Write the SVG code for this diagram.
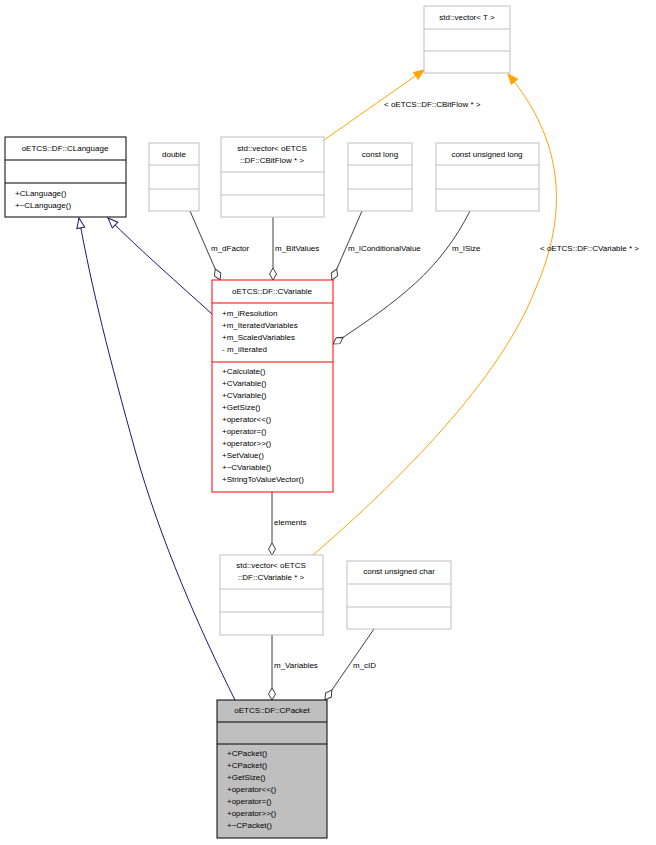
<svg xmlns="http://www.w3.org/2000/svg" width="656" height="845" viewBox="0 0 656 845">
<style>
text{font-family:"Liberation Sans",Arial,sans-serif;font-size:8px;fill:#000}
.c{text-anchor:middle}
.g{fill:#fff;stroke:#bfbfbf;stroke-width:1}
.b{fill:#fff;stroke:#000;stroke-width:1}
.r{fill:#fff;stroke:#ff0000;stroke-width:1}
.p{fill:#bfbfbf;stroke:#000;stroke-width:1}
.e{fill:none;stroke:#404040;stroke-width:1}
.i{fill:none;stroke:#191970;stroke-width:1}
.o{fill:none;stroke:#ffa500;stroke-width:1}
</style>
<defs>
<marker id="dia" markerWidth="14" markerHeight="8" refX="13" refY="4" orient="auto" markerUnits="userSpaceOnUse"><path d="M1,4 L7,0.5 L13,4 L7,7.5 Z" fill="#fff" stroke="#404040"/></marker>
<marker id="tri" markerWidth="12" markerHeight="10" refX="11" refY="5" orient="auto" markerUnits="userSpaceOnUse"><path d="M1,1 L11,5 L1,9 Z" fill="#fff" stroke="#191970"/></marker>
<marker id="oa" markerWidth="12" markerHeight="10" refX="11" refY="5" orient="auto" markerUnits="userSpaceOnUse"><path d="M1,1 L11,5 L1,9 Z" fill="#ffa500" stroke="#ffa500"/></marker>
</defs>
<g id="connectors">
<path class="i" d="M235,700 C200,630 160,540 135,450 C110,360 92,290 79,218" marker-end="url(#tri)"/>
<path class="i" d="M212,314 C180,285 140,250 108,218" marker-end="url(#tri)"/>
<path class="e" d="M190,211 L220,280" marker-end="url(#dia)"/>
<path class="e" d="M273,217 L273,280" marker-end="url(#dia)"/>
<path class="e" d="M362,211 L332,280" marker-end="url(#dia)"/>
<path class="e" d="M470,211 C440,270 400,300 333,344" marker-end="url(#dia)"/>
<path class="o" d="M324,140 L424,70" marker-end="url(#oa)"/>
<path class="o" d="M313,555 C400,480 500,380 535,290 C575,200 555,130 508,74" marker-end="url(#oa)"/>
<path class="e" d="M272,492 L272,555" marker-end="url(#dia)"/>
<path class="e" d="M272,635 L272,700" marker-end="url(#dia)"/>
<path class="e" d="M374,629 L325,700" marker-end="url(#dia)"/>
<text x="384" y="107">&lt; oETCS::DF::CBitFlow * &gt;</text>
<text x="540" y="251">&lt; oETCS::DF::CVariable * &gt;</text>
<text x="211" y="251">m_dFactor</text>
<text x="275" y="251">m_BitValues</text>
<text x="348" y="251">m_lConditionalValue</text>
<text x="452" y="251">m_lSize</text>
<text x="274" y="525">elements</text>
<text x="274" y="668">m_Variables</text>
<text x="353" y="668">m_cID</text>
</g>
<g id="vectorT"><rect class="g" x="424" y="6" width="86" height="67"/><path class="g" d="M424,29H510M424,51H510"/><text class="c" x="467" y="20">std::vector&lt; T &gt;</text></g>
<g id="CLanguage"><rect class="b" x="5" y="137" width="121" height="80"/><path class="b" d="M5,160H126M5,183H126"/><text class="c" x="65" y="151">oETCS::DF::CLanguage</text><text x="15" y="196">+CLanguage()</text><text x="15" y="208">+~CLanguage()</text></g>
<g id="double"><rect class="g" x="149" y="143" width="50" height="68"/><path class="g" d="M149,165H199M149,189H199"/><text class="c" x="174" y="157">double</text></g>
<g id="vecBitFlow"><rect class="g" x="221" y="137" width="103" height="80"/><path class="g" d="M221,172H324M221,195H324"/><text class="c" x="272" y="151">std::vector&lt; oETCS</text><text class="c" x="272" y="163">::DF::CBitFlow * &gt;</text></g>
<g id="constlong"><rect class="g" x="348" y="143" width="64" height="68"/><path class="g" d="M348,165H412M348,189H412"/><text class="c" x="380" y="157">const long</text></g>
<g id="constulong"><rect class="g" x="436" y="143" width="103" height="68"/><path class="g" d="M436,165H539M436,189H539"/><text class="c" x="487" y="157">const unsigned long</text></g>
<g id="CVariable"><rect class="r" x="212" y="280" width="121" height="212"/><path class="r" d="M212,303H333M212,362H333"/><text class="c" x="272" y="294">oETCS::DF::CVariable</text>
<text x="222" y="316">+m_iResolution</text><text x="222" y="328">+m_IteratedVariables</text><text x="222" y="340">+m_ScaledVariables</text><text x="222" y="352">- m_iIterated</text>
<text x="222" y="374">+Calculate()</text><text x="222" y="386">+CVariable()</text><text x="222" y="398">+CVariable()</text><text x="222" y="410">+GetSize()</text><text x="222" y="422">+operator&lt;&lt;()</text><text x="222" y="434">+operator=()</text><text x="222" y="446">+operator&gt;&gt;()</text><text x="222" y="458">+SetValue()</text><text x="222" y="470">+~CVariable()</text><text x="222" y="482">+StringToValueVector()</text></g>
<g id="vecCVariable"><rect class="g" x="220" y="555" width="103" height="80"/><path class="g" d="M220,589H323M220,612H323"/><text class="c" x="271" y="568">std::vector&lt; oETCS</text><text class="c" x="271" y="580">::DF::CVariable * &gt;</text></g>
<g id="constuchar"><rect class="g" x="347" y="561" width="104" height="68"/><path class="g" d="M347,584H451M347,607H451"/><text class="c" x="399" y="574">const unsigned char</text></g>
<g id="CPacket"><rect class="p" x="217" y="700" width="110" height="138"/><path class="p" d="M217,722H327M217,744H327"/><text class="c" x="272" y="713">oETCS::DF::CPacket</text>
<text x="227" y="756">+CPacket()</text><text x="227" y="768">+CPacket()</text><text x="227" y="780">+GetSize()</text><text x="227" y="792">+operator&lt;&lt;()</text><text x="227" y="804">+operator=()</text><text x="227" y="816">+operator&gt;&gt;()</text><text x="227" y="828">+~CPacket()</text></g>
</svg>
